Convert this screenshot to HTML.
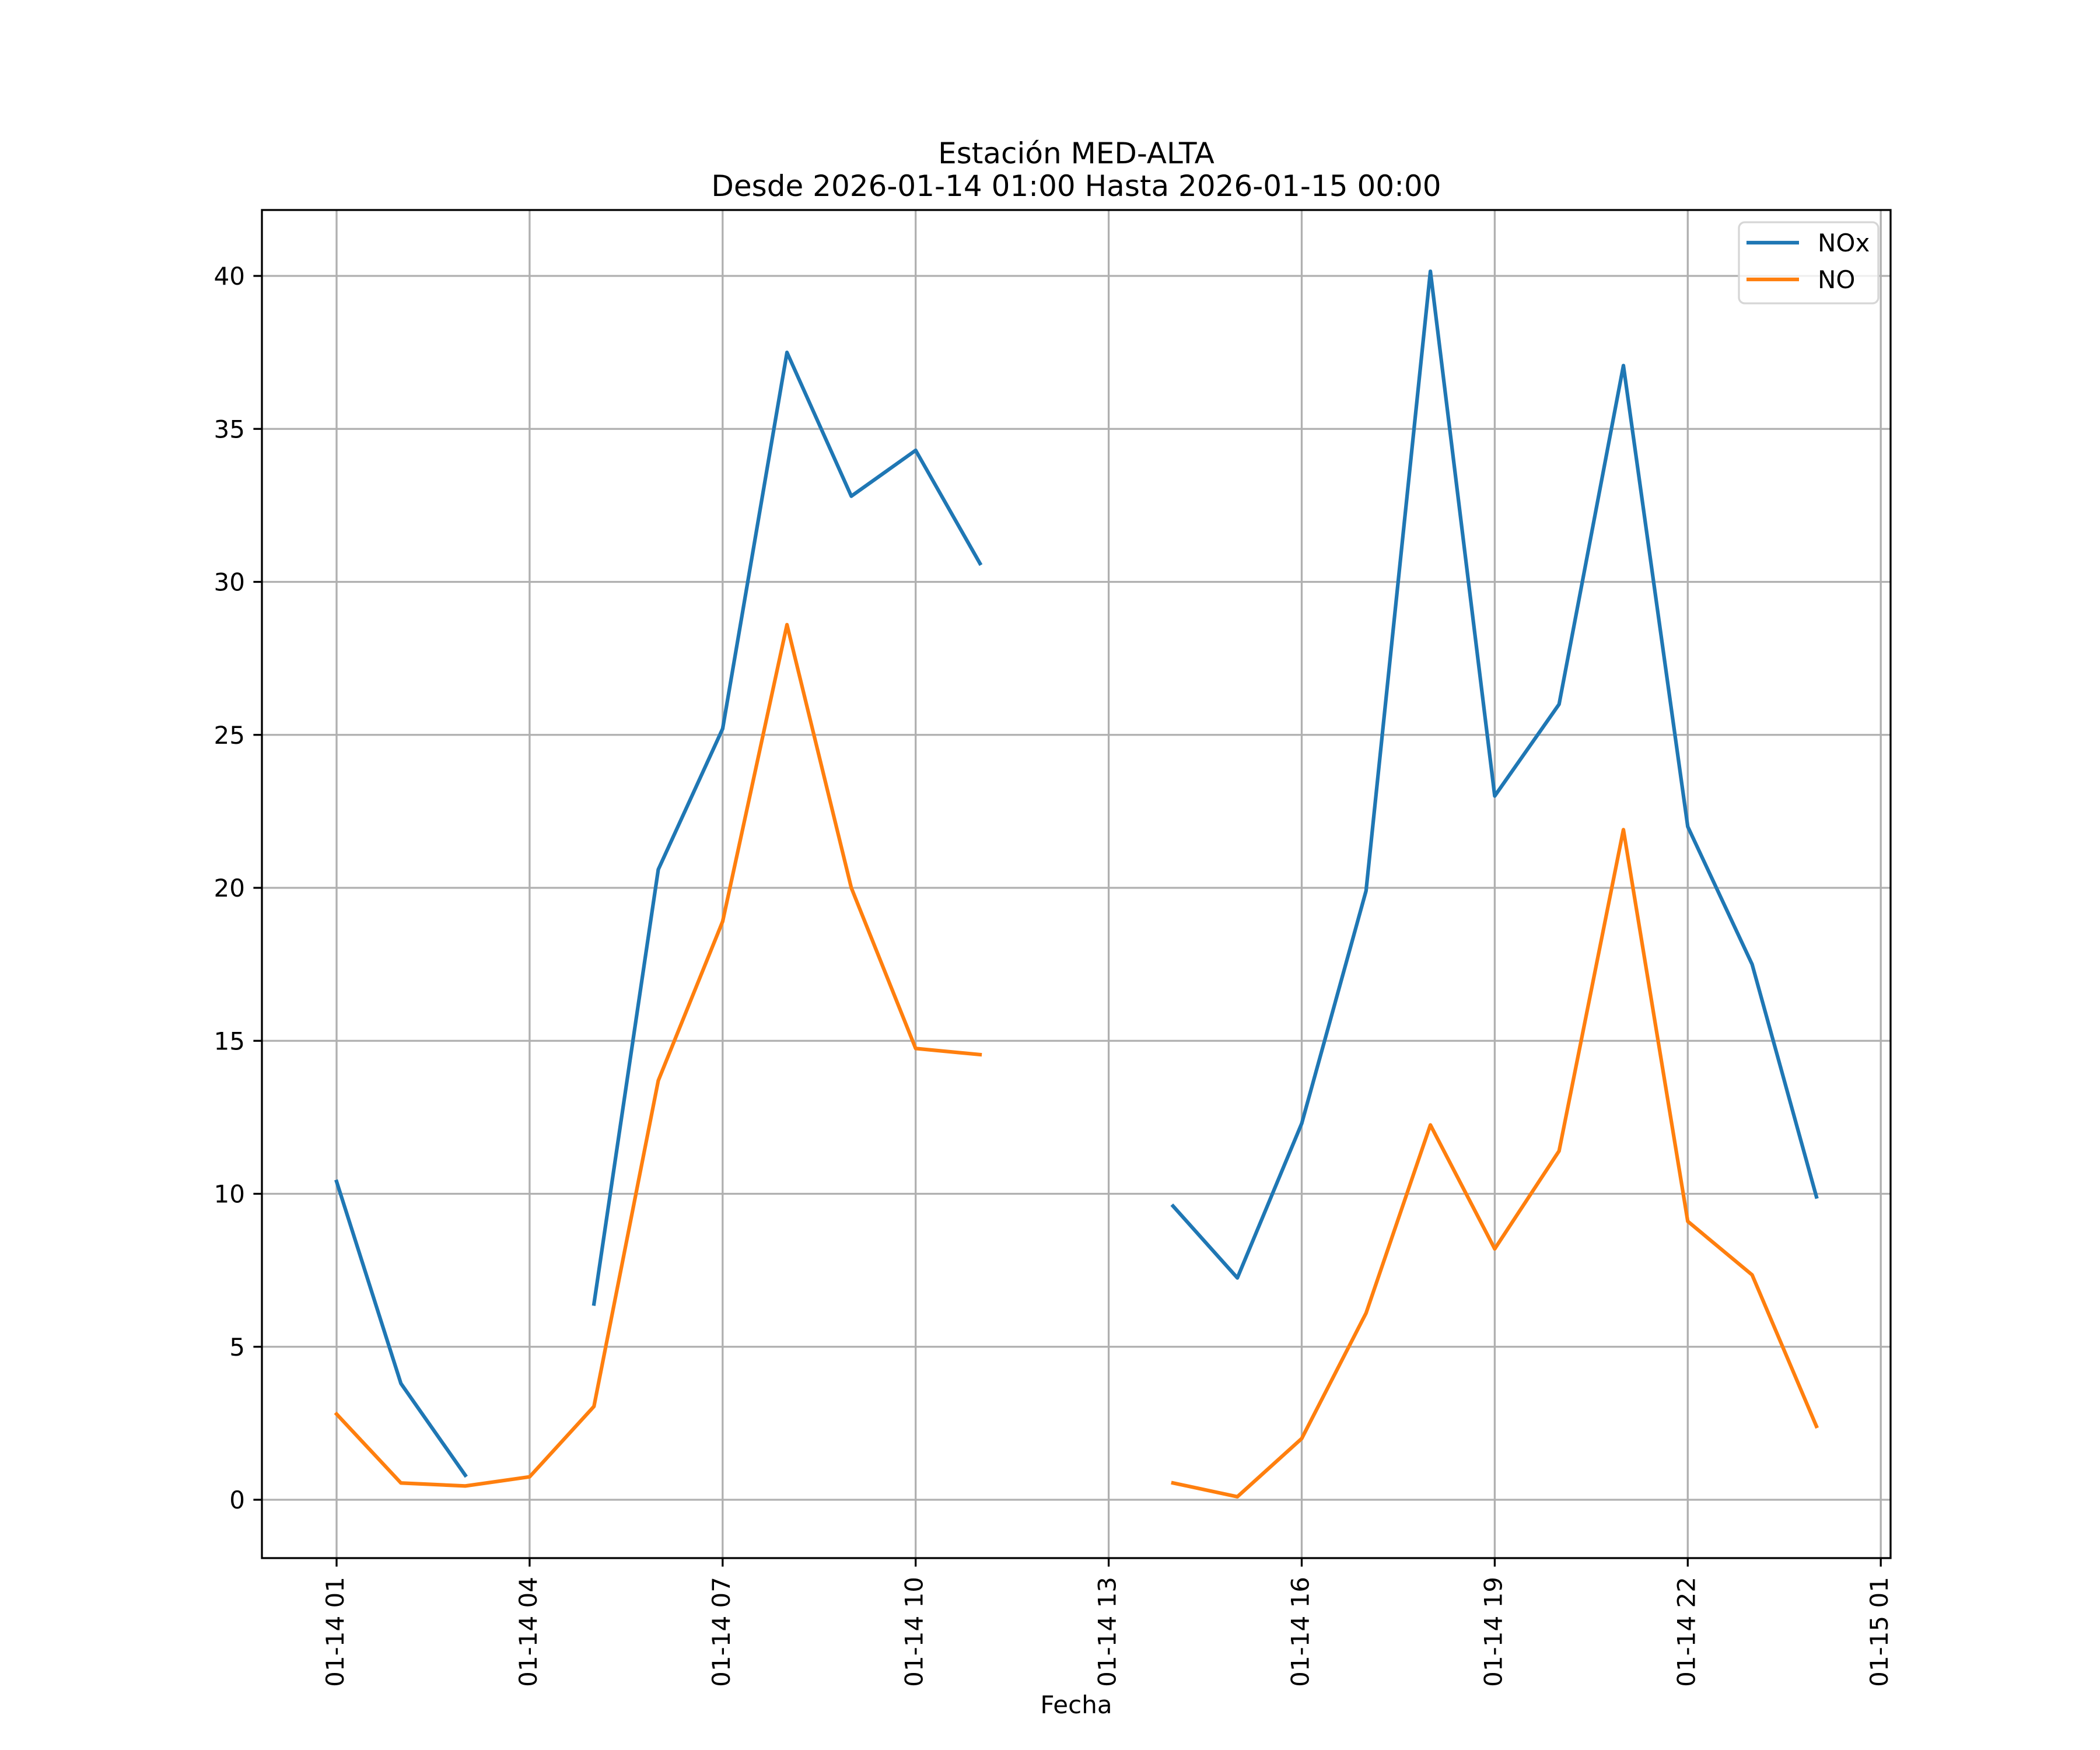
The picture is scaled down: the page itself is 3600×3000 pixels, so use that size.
<!DOCTYPE html>
<html><head><meta charset="utf-8"><style>
html,body{margin:0;padding:0;background:#fff;}
svg{display:block;font-family:"DejaVu Sans","Liberation Sans",sans-serif;}
</style></head><body>
<svg id="chart" width="3600" height="3000" viewBox="0 0 3600 3000" xmlns="http://www.w3.org/2000/svg">
<rect width="3600" height="3000" fill="#fff"/>
<g id="grid"></g>
<g id="series"></g>
<rect x="449" y="360" width="2792" height="2311" fill="none" stroke="#000" stroke-width="3.3"/>
<g id="ticks"></g>
<text x="1845" y="280" font-size="50" text-anchor="middle">Estación MED-ALTA</text>
<text x="1845" y="336" font-size="50" text-anchor="middle">Desde 2026-01-14 01:00 Hasta 2026-01-15 00:00</text>
<text x="1845" y="2937" font-size="42" text-anchor="middle">Fecha</text>
<g>
<rect x="2981" y="381" width="239" height="139" rx="10" fill="#fff" fill-opacity="0.8" stroke="#d6d6d6" stroke-width="3.3"/>
<line x1="2994" y1="416" x2="3084" y2="416" stroke="#1f77b4" stroke-width="6.25"/>
<text x="3116" y="431" font-size="42">NOx</text>
<line x1="2994" y1="479" x2="3084" y2="479" stroke="#ff7f0e" stroke-width="6.25"/>
<text x="3116" y="494" font-size="42">NO</text>
</g>
</svg>
<script>
const hours = [1,2,3,4,5,6,7,8,9,10,11,12,13,14,15,16,17,18,19,20,21,22,23,24];
const noxValues = [10.4,3.8,0.8,null,6.4,20.6,25.2,37.5,32.8,34.3,30.6,null,null,9.6,7.25,12.3,19.9,40.15,23.0,26.0,37.07,22.0,17.5,9.9];
const noValues = [2.8,0.55,0.45,0.75,3.05,13.7,18.9,28.6,20.0,14.75,14.55,null,null,0.55,0.1,2.0,6.1,12.25,8.2,11.4,21.9,9.1,7.35,2.4];
const yTicks = [0,5,10,15,20,25,30,35,40];
const xTickHours = [1,4,7,10,13,16,19,22,25];
const xTickLabels = ["01-14 01","01-14 04","01-14 07","01-14 10","01-14 13","01-14 16","01-14 19","01-14 22","01-15 01"];

const NS = "http://www.w3.org/2000/svg";
const X = h => 577 + (h - 1) * 110.3;
const Y = v => 2571 - v * 52.45;
const L = 449, R = 3241, T = 360, B = 2671;
function mk(tag, attrs, parent) {
  const e = document.createElementNS(NS, tag);
  for (const k in attrs) e.setAttribute(k, attrs[k]);
  parent.appendChild(e);
  return e;
}
const grid = document.getElementById('grid');
const ticks = document.getElementById('ticks');
const series = document.getElementById('series');

yTicks.forEach(v => {
  const g = mk('line', {x1: L, x2: R, y1: Y(v), y2: Y(v), stroke: '#b0b0b0', 'stroke-width': 3.3}, grid);
  
  
  const t = mk('line', {x1: L - 14.6, x2: L, y1: Y(v), y2: Y(v), stroke: '#000', 'stroke-width': 3.3}, ticks);
  
  
  const tx = mk('text', {x: 420, y: Y(v) + 15, 'font-size': 42, 'text-anchor': 'end'}, ticks);
  tx.textContent = String(v);
  
  
});
xTickHours.forEach((h, i) => {
  const g = mk('line', {x1: X(h), x2: X(h), y1: T, y2: B, stroke: '#b0b0b0', 'stroke-width': 3.3}, grid);
  
  
  const t = mk('line', {x1: X(h), x2: X(h), y1: B, y2: B + 14.6, stroke: '#000', 'stroke-width': 3.3}, ticks);
  
  
  const tx = mk('text', {transform: 'translate(' + (X(h) + 12) + ',2703) rotate(-90)', 'font-size': 42, 'text-anchor': 'end'}, ticks);
  tx.textContent = xTickLabels[i];
  
  
});
function drawSeries(vals, color, name) {
  let segs = [], cur = [];
  vals.forEach((v, i) => {
    if (v === null) { if (cur.length) segs.push(cur); cur = []; }
    else cur.push(X(hours[i]).toFixed(1) + ',' + Y(v).toFixed(1));
  });
  if (cur.length) segs.push(cur);
  segs.forEach(s => {
    const p = mk('polyline', {points: s.join(' '), fill: 'none', stroke: color, 'stroke-width': 6.25, 'stroke-linejoin': 'round', 'stroke-linecap': 'square'}, series);
    
    
  });
}
drawSeries(noxValues, '#1f77b4', 'nox-line');
drawSeries(noValues, '#ff7f0e', 'no-line');
</script>
</body></html>
